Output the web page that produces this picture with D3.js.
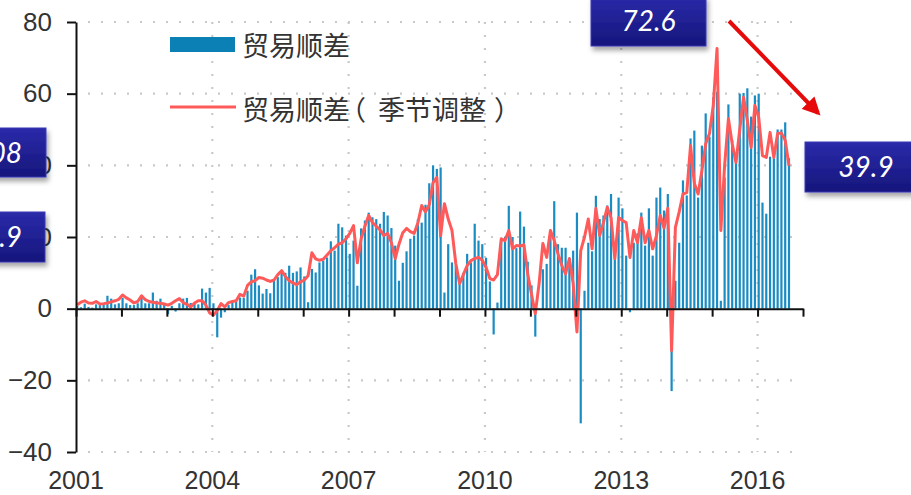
<!DOCTYPE html>
<meta charset="utf-8">
<style>
body { margin: 0; background: #fff; }
svg { font-family: "Liberation Sans", Arial, sans-serif; }
</style>
<svg width="911" height="495"></svg>
<script src="https://cdn.jsdelivr.net/npm/d3@7/dist/d3.min.js"></script>
<script>
// monthly values from Jan 2001
var startYear = 2001;
var tradeBalance = [
  0.8, 0.4, 1.4, 0.5, 0.3, 1.2, 1.0, 1.4, 3.6, 2.8, 1.2, 1.5,
  3.0, 1.5, 1.0, 1.0, 1.5, 3.6, 1.5, 1.5, 4.5, 2.2, 2.8, 1.5,
  -1.5, 0.8, -0.8, 1.5, 2.8, 3.0, 1.6, 1.5, 1.2, 5.6, 4.5, 5.8,
  1.5, -8.0, -2.5, -1.0, 1.0, 2.0, 2.0, 3.1, 3.0, 5.0, 9.5, 11.0,
  6.5, 4.2, 5.5, 4.3, 8.0, 8.8, 10.6, 10.0, 12.0, 10.0, 10.4, 11.5,
  9.0, 1.8, 11.1, 10.1, 12.9, 13.4, 14.3, 18.8, 16.2, 23.7, 22.7, 20.4,
  15.3, 19.0, 6.4, 22.4, 24.6, 26.8, 25.5, 25.0, 23.7, 27.0, 26.0, 22.5,
  17.6, 7.8, 12.8, 16.0, 19.5, 20.4, 25.0, 24.0, 29.0, 35.0, 40.0, 39.0,
  39.4, 4.5, 18.0, 12.9, 12.0, 7.0, 10.0, 15.3, 12.9, 23.7, 19.0, 18.0,
  14.2, 7.6, -7.2, 1.7, 19.5, 20.0, 28.7, 20.0, 16.9, 27.1, 22.9, 13.1,
  6.5, -7.8, 0.1, 11.0, 12.5, 21.8, 30.0, 18.0, 17.0, 17.0, 14.0, 16.2,
  26.8, -32.0, 5.0, 18.4, 16.0, 31.5, 25.0, 26.0, 28.8, 32.0, 14.0, 31.0,
  28.0, 14.8, -1.0, 18.4, 21.0, 26.8, 17.6, 28.0, 14.8, 31.0, 33.8, 27.4,
  32.0, -23.0, 7.8, 18.4, 35.8, 31.6, 47.5, 49.7, 31.0, 45.5, 54.5, 48.0,
  59.0, 60.5, 2.2, 36.6, 57.0, 47.0, 40.8, 60.0, 60.2, 61.5, 53.6, 59.5,
  60.0, 29.6, 26.5, 42.4, 42.0, 50.0, 50.0, 52.0, 42.0
];
var tradeBalanceSA = [
  1.1, 1.8, 2.2, 1.6, 1.5, 2.0, 1.3, 1.4, 1.6, 1.9, 2.2, 2.6,
  3.8, 3.0, 2.4, 1.6, 2.0, 3.6, 2.5, 2.0, 1.8, 1.6, 1.5, 1.3,
  1.0, 1.5, 2.2, 2.8, 1.7, 1.2, 0.5, 1.6, 2.2, 2.2, 1.0, -1.2,
  -1.8, -0.5, 1.4, 0.5, 1.7, 2.0, 2.2, 4.0, 3.5, 6.5, 7.5, 7.8,
  8.7, 8.5, 8.0, 7.6, 8.0, 9.5, 10.6, 9.0, 7.8, 7.2, 6.7, 7.5,
  8.0, 9.2, 15.6, 13.9, 13.5, 13.8, 15.0, 16.2, 17.0, 18.0, 18.4, 19.5,
  21.0, 23.2, 12.8, 19.5, 23.0, 26.0, 24.0, 23.0, 22.0, 20.4, 21.0, 18.4,
  14.0, 18.0, 21.2, 22.4, 21.5, 21.0, 24.0, 28.8, 27.0, 29.0, 35.2, 36.6,
  20.4, 29.3, 25.0, 21.8, 12.6, 7.0, 9.5, 12.0, 13.4, 14.0, 14.3, 13.5,
  11.5, 8.4, 8.0, 9.5, 19.5, 19.0, 21.8, 16.7, 17.6, 17.5, 17.8, 9.7,
  4.0, -1.4, 7.0, 18.2, 14.3, 21.8, 19.0, 15.3, 12.0, 9.7, 14.0, 7.0,
  -6.5, 16.2, 20.0, 25.0, 16.7, 28.0, 20.4, 24.0, 28.3, 25.4, 14.0, 25.4,
  24.6, 24.0, 14.3, 21.8, 18.4, 25.4, 18.4, 21.8, 16.7, 20.4, 26.0, 22.5,
  28.0, -11.7, 22.7, 27.0, 32.0, 32.4, 45.5, 35.0, 32.0, 38.5, 46.0, 48.9,
  56.7, 72.6, 21.8, 40.0, 53.0, 46.0, 40.8, 50.0, 59.0, 52.5, 45.0, 56.7,
  53.4, 42.7, 42.2, 49.2, 42.2, 48.9, 49.0, 47.0, 39.9
];
var yTicks = [-40, -20, 0, 20, 40, 60, 80];
var xLabelYears = [2001, 2004, 2007, 2010, 2013, 2016];
var seriesNames = ["贸易顺差", "贸易顺差（季节调整）"];
var callouts = [
  {text: "72.6", x0: 591, y0: -4, x1: 706, y1: 46, anchor: "middle"},
  {text: "39.9", x0: 805, y0: 142, x1: 930, y1: 192, anchor: "middle"},
  {text: "33.08", x0: -40, y0: 128, x1: 46, y1: 177, anchor: "end"},
  {text: "19.9", x0: -40, y0: 212, x1: 45, y1: 262, anchor: "end"}
];

var svg = d3.select("svg");

var x = d3.scaleLinear().domain([2001, 2017]).range([76, 803]);
var y = d3.scaleLinear().domain([-40, 80]).range([452, 22]);

function monthX(i) { return x(startYear + (i + 0.3) / 12); }

var defs = svg.append("defs");
var grad = defs.append("linearGradient").attr("id", "boxGrad")
    .attr("x1", 0).attr("y1", 0).attr("x2", 0).attr("y2", 1);
grad.append("stop").attr("offset", "0%").attr("stop-color", "#2a2aaa");
grad.append("stop").attr("offset", "100%").attr("stop-color", "#16167c");
defs.append("filter").attr("id", "shadow").attr("x", "-20%").attr("y", "-20%")
    .attr("width", "150%").attr("height", "160%")
  .append("feDropShadow").attr("dx", 2).attr("dy", 4).attr("stdDeviation", 2.5)
    .attr("flood-color", "#000").attr("flood-opacity", 0.35);
defs.append("filter").attr("id", "soft")
  .append("feGaussianBlur").attr("stdDeviation", 0.6);
defs.append("marker").attr("id", "arrowHead")
    .attr("viewBox", "0 0 10 10").attr("refX", 8).attr("refY", 5)
    .attr("markerWidth", 4.5).attr("markerHeight", 4.5).attr("orient", "auto")
  .append("path").attr("d", "M0,0L10,5L0,10z").attr("fill", "#e60a0a");

// dotted grid
var grid = svg.append("g").attr("stroke", "#c9c9c9").attr("stroke-width", 2.2)
    .attr("stroke-dasharray", "2,11");
grid.selectAll(".h").data(yTicks.filter(function(d) { return d !== 0; }))
  .enter().append("line")
    .attr("x1", 88).attr("x2", 800)
    .attr("y1", function(d) { return y(d); }).attr("y2", function(d) { return y(d); });
grid.selectAll(".v").data(xLabelYears.slice(1))
  .enter().append("line")
    .attr("x1", function(d) { return x(d); }).attr("x2", function(d) { return x(d); })
    .attr("y1", y(80)).attr("y2", y(-40));

// bars
svg.append("g").selectAll("rect").data(tradeBalance)
  .enter().append("rect")
    .attr("x", function(d, i) { return monthX(i) - 1.1; })
    .attr("width", 2.2)
    .attr("y", function(d) { return y(Math.max(0, d)); })
    .attr("height", function(d) { return Math.abs(y(d) - y(0)); })
    .attr("fill", "#1a8cc4");

// seasonally adjusted line
var line = d3.line()
    .x(function(d, i) { return monthX(i); })
    .y(function(d) { return y(d); });
svg.append("path").datum(tradeBalanceSA)
    .attr("d", line)
    .attr("fill", "none")
    .attr("stroke", "#ff5a5a")
    .attr("stroke-width", 3)
    .attr("stroke-linejoin", "round")
    .attr("filter", "url(#soft)");

// axes
var yAxis = svg.append("g").attr("transform", "translate(76,0)")
    .call(d3.axisLeft(y).tickValues(yTicks).tickSize(9).tickSizeOuter(0).tickPadding(15));
var xAxis = svg.append("g").attr("transform", "translate(0," + y(0) + ")")
    .call(d3.axisBottom(x).ticks(16).tickSize(8).tickSizeOuter(0).tickFormat(""));
[yAxis, xAxis].forEach(function(a) {
  a.select(".domain").attr("stroke", "#111").attr("stroke-width", 2);
  a.selectAll(".tick line").attr("stroke", "#111").attr("stroke-width", 2);
});
yAxis.selectAll("text").attr("font-size", 26).attr("fill", "#333")
    .attr("font-family", "Liberation Sans, Arial, sans-serif");
svg.append("g").selectAll("text").data(xLabelYears)
  .enter().append("text")
    .attr("x", function(d) { return x(d); })
    .attr("y", 489)
    .attr("text-anchor", "middle")
    .attr("font-size", 25)
    .attr("fill", "#333")
    .text(function(d) { return d; });

// legend
var legend = svg.append("g").attr("font-family", "Noto Sans CJK SC, sans-serif")
    .attr("font-size", 27).attr("fill", "#333");
legend.append("rect").attr("x", 170).attr("y", 37).attr("width", 65).attr("height", 15)
    .attr("fill", "#0a80b5");
legend.append("text").attr("x", 242).attr("y", 56).text(seriesNames[0]);
legend.append("line").attr("x1", 170).attr("x2", 236).attr("y1", 107).attr("y2", 107)
    .attr("stroke", "#ff5a5a").attr("stroke-width", 3);
// split the label so the full-width brackets sit with spaces like the original
var parts = seriesNames[1].match(/^(.*?)（(.*)）$/);
var t2 = legend.append("text").attr("x", 242).attr("y", 120);
t2.append("tspan").text(parts[1]);
t2.append("tspan").attr("dx", -11).text("（");
t2.append("tspan").attr("dx", 12).text(parts[2]);
t2.append("tspan").attr("dx", 8).text("）");

// callout boxes
var boxes = svg.append("g").selectAll("g").data(callouts).enter().append("g");
boxes.append("rect")
    .attr("x", function(d) { return d.x0; }).attr("y", function(d) { return d.y0; })
    .attr("width", function(d) { return d.x1 - d.x0; })
    .attr("height", function(d) { return d.y1 - d.y0; })
    .attr("fill", "url(#boxGrad)")
    .attr("stroke", "#3a3ab8").attr("stroke-width", 1)
    .attr("filter", "url(#shadow)");
boxes.append("text")
    .attr("x", function(d) { return d.anchor === "end" ? 22 : (d.x0 + Math.min(d.x1, 911)) / 2 + (d.x1 > 911 ? 8 : 0); })
    .attr("y", function(d) { return (d.y0 + d.y1) / 2 + 10; })
    .attr("text-anchor", function(d) { return d.anchor; })
    .attr("font-family", "Lato, sans-serif")
    .attr("font-style", "italic")
    .attr("font-size", 28)
    .attr("fill", "#fff")
    .text(function(d) { return d.text; });

// arrow
svg.append("line")
    .attr("x1", 729).attr("y1", 21).attr("x2", 818).attr("y2", 113)
    .attr("stroke", "#e60a0a").attr("stroke-width", 4)
    .attr("marker-end", "url(#arrowHead)");
</script>
